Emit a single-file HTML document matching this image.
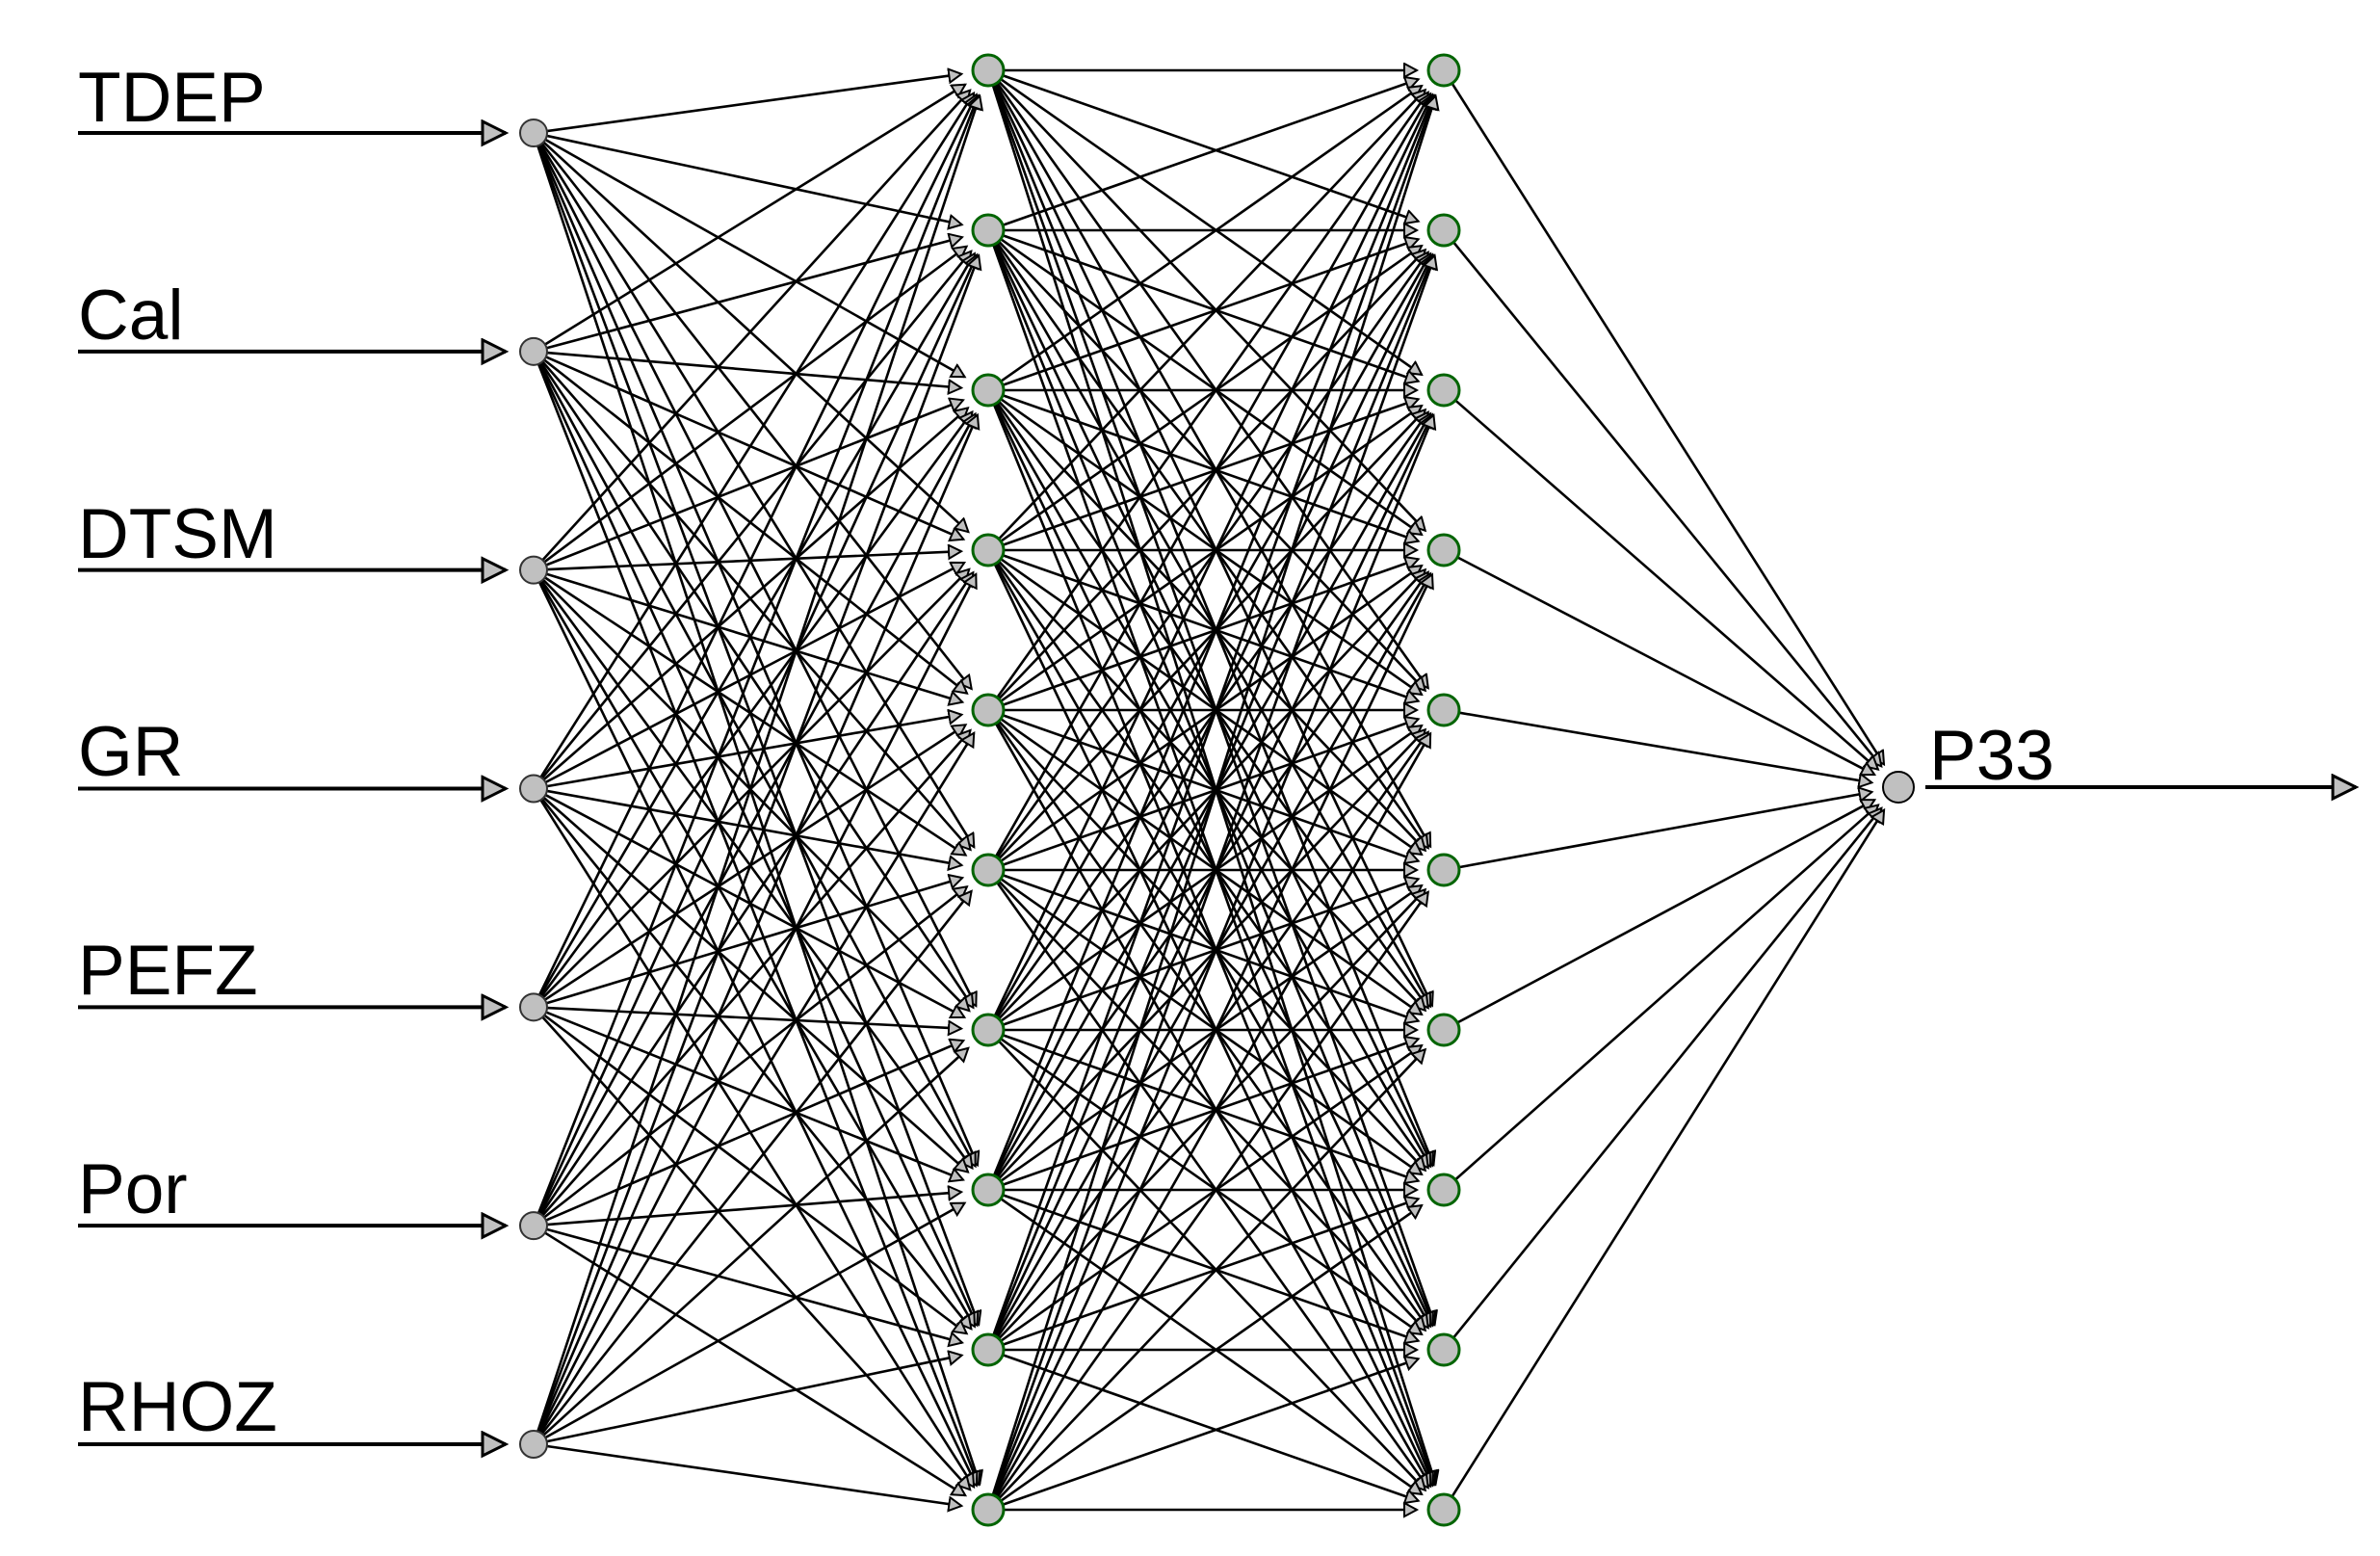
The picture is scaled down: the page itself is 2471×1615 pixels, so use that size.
<!DOCTYPE html>
<html><head><meta charset="utf-8"><style>
html,body{margin:0;padding:0;background:#fff;}
svg{display:block;}
text{font-family:"Liberation Sans",Arial,sans-serif;font-size:73px;fill:#000;}
</style></head><body>
<svg id="s" width="2471" height="1615" viewBox="0 0 2471 1615" xmlns="http://www.w3.org/2000/svg">
<defs>
<marker id="a" markerUnits="userSpaceOnUse" markerWidth="18" markerHeight="18" refX="14" refY="8" orient="auto">
<path d="M1,1 L14,8 L1,15 Z" fill="#c0c0c0" stroke="#000" stroke-width="2"/>
</marker>
<marker id="b" markerUnits="userSpaceOnUse" markerWidth="30" markerHeight="30" refX="26" refY="14" orient="auto">
<path d="M2,2 L26,14 L2,26 Z" fill="#c0c0c0" stroke="#000" stroke-width="3"/>
</marker>
</defs>
<g id="lines" stroke="#000" stroke-width="2.6" fill="none"></g>
<g id="nodes"></g>
<text x="81" y="126">TDEP</text>
<text x="81" y="352">Cal</text>
<text x="81" y="579">DTSM</text>
<text x="81" y="805">GR</text>
<text x="81" y="1032">PEFZ</text>
<text x="81" y="1259">Por</text>
<text x="81" y="1485">RHOZ</text>
<text x="2003" y="809">P33</text>
<line x1="1999" y1="817" x2="2446" y2="817" stroke="#000" stroke-width="4" marker-end="url(#b)"/>
</svg>
<script>
(function(){
var NS="http://www.w3.org/2000/svg";
var L=document.getElementById("lines"),N=document.getElementById("nodes");
var inp=[],h1=[],h2=[];
for(var i=0;i<7;i++)inp.push([554,138+i*226.83]);
for(var i=0;i<10;i++){h1.push([1026,73+i*166]);h2.push([1499,73+i*166]);}
var out=[1971,817];
function ln(x1,y1,x2,y2,m,w){var e=document.createElementNS(NS,"line");e.setAttribute("x1",x1);e.setAttribute("y1",y1);e.setAttribute("x2",x2);e.setAttribute("y2",y2);if(w)e.setAttribute("stroke-width",w);if(m)e.setAttribute("marker-end",m);L.appendChild(e);}
function conn(s,t){var dx=t[0]-s[0],dy=t[1]-s[1],d=Math.sqrt(dx*dx+dy*dy);var ux=dx/d,uy=dy/d;
 ln(s[0]+ux*14,s[1]+uy*14,t[0]-ux*28,t[1]-uy*28,"url(#a)");}
inp.forEach(function(s){h1.forEach(function(t){conn(s,t);});});
h1.forEach(function(s){h2.forEach(function(t){conn(s,t);});});
h2.forEach(function(s){conn(s,out);});
inp.forEach(function(p){ln(81,p[1],525,p[1],"url(#b)",4);});
function c(p,r,f,st,sw){var e=document.createElementNS(NS,"circle");e.setAttribute("cx",p[0]);e.setAttribute("cy",p[1]);e.setAttribute("r",r);e.setAttribute("fill",f);e.setAttribute("stroke",st);e.setAttribute("stroke-width",sw);N.appendChild(e);}
inp.forEach(function(p){c(p,14,"#c0c0c0","#333",2);});
h1.concat(h2).forEach(function(p){c(p,16,"#c0c0c0","#006400",3);});
c(out,16,"#c0c0c0","#000",2);
})();
</script>
</body></html>
